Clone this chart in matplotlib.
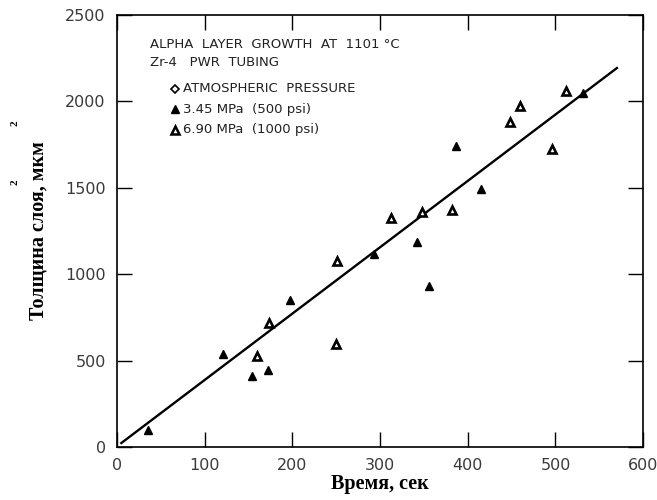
import numpy as np
import matplotlib.pyplot as plt

# points
x_345 = [35, 121, 154, 172, 197, 293, 342, 356, 387, 415, 531]
y_345 = [98, 538, 411, 446, 851, 1117, 1186, 932, 1742, 1493, 2049]
x_690 = [160, 173, 250, 251, 313, 348, 382, 448, 459, 496, 512]
y_690 = [527, 718, 596, 1076, 1325, 1360, 1372, 1881, 1973, 1725, 2060]
line_x = [5, 570]
line_y = [23, 2193]

xticks = [0, 100, 200, 300, 400, 500, 600]
yticks = [0, 500, 1000, 1500, 2000, 2500]

fig = plt.figure(figsize=(6.57, 5.0), dpi=100)
ax = fig.add_axes([0.178, 0.106, 0.801, 0.864])

ax.plot(line_x, line_y, color='black', lw=1.7)
ax.plot(x_345, y_345, '^', color='black', ms=6, ls='none')
ax.plot(x_690, y_690, '^', mfc='white', mec='black', mew=1.9, ms=5.5, ls='none')

ax.set_xlim(0, 600)
ax.set_ylim(0, 2500)
ax.set_xticks(xticks)
ax.set_yticks(yticks)
ax.tick_params(direction='in', length=11, width=1, top=True, right=True,
               labelsize=11.5, labelcolor='#3a3a3a', pad=8)
for sp in ax.spines.values():
    sp.set_linewidth(1.2)

ax.set_xlabel('Время, сек', family='Liberation Serif', fontweight='bold',
              fontsize=14.5, labelpad=1)
ax.set_ylabel('Толщина слоя, мкм', family='Liberation Serif', fontweight='bold',
              fontsize=14.5, labelpad=12)
# the odd superscripts of the original label
fig.text(15/657, 1-123/500, '2', rotation=90, fontsize=8, ha='center', va='center',
         family='Liberation Serif', fontweight='bold')
fig.text(15/657, 1-182/500, '2', rotation=90, fontsize=8, ha='center', va='center',
         family='Liberation Serif', fontweight='bold')

# annotation block
def fx(px):
    return (px - 117) / 526.0

def fy(py):
    return (447 - py) / 432.0

kw = dict(transform=ax.transAxes, fontsize=9.5, va='center', color='#222222')
ax.text(fx(150), fy(45), 'ALPHA  LAYER  GROWTH  AT  1101 °C', **kw)
ax.text(fx(150), fy(62), 'Zr-4   PWR  TUBING', **kw)
ax.text(fx(183), fy(89), 'ATMOSPHERIC  PRESSURE', **kw)
ax.text(fx(183), fy(109), '3.45 MPa  (500 psi)', **kw)
ax.text(fx(183), fy(130), '6.90 MPa  (1000 psi)', **kw)
ax.plot([fx(175)], [fy(89)], marker='D', ms=4, mfc='white', mec='black', mew=1.2,
        transform=ax.transAxes)
ax.plot([fx(175)], [fy(109)], marker='^', ms=5.5, color='black', transform=ax.transAxes)
ax.plot([fx(175)], [fy(130)], marker='^', ms=5.5, mfc='white', mec='black', mew=1.8,
        transform=ax.transAxes)

fig.savefig('out.png', dpi=100)
